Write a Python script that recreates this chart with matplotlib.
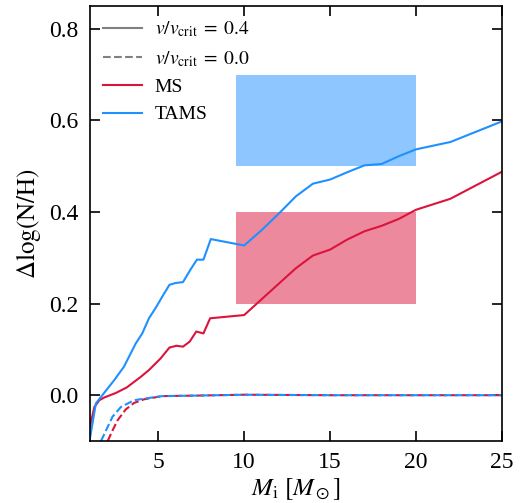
import numpy as np
import matplotlib
matplotlib.use('Agg')
import matplotlib.pyplot as plt
from matplotlib.lines import Line2D
from matplotlib.patches import Rectangle

plt.rcParams['font.family'] = ['Liberation Serif', 'DejaVu Serif']
plt.rcParams['mathtext.fontset'] = 'stix'

# rotating models (v/vcrit = 0.4)
ms_rot_m   = [1.0, 1.09, 1.28, 1.57, 1.86, 2.54, 3.17, 3.98, 4.46, 5.13, 5.65, 6.06, 6.44, 6.83, 7.21, 7.63, 8.02,
              10.0, 11.0, 12.0, 13.0, 14.0, 15.0, 16.0, 17.0, 18.0, 19.0, 20.0, 22.0, 25.0]
ms_rot_dn  = [-0.075, -0.058, -0.026, -0.011, -0.005, 0.005, 0.017, 0.040, 0.055, 0.080, 0.104, 0.108, 0.106, 0.117,
              0.139, 0.135, 0.168, 0.175, 0.209, 0.243, 0.277, 0.305, 0.318, 0.340, 0.358, 0.370, 0.385, 0.405,
              0.429, 0.488]
tams_rot_m  = [1.0, 1.37, 1.83, 2.44, 3.0, 3.69, 4.07, 4.46, 4.84, 5.23, 5.65, 6.0, 6.44, 6.87, 7.25, 7.63, 8.06,
               10.0, 11.0, 12.0, 13.0, 14.0, 15.0, 16.0, 17.0, 18.0, 19.0, 20.0, 22.0, 25.0]
tams_rot_dn = [-0.10, -0.018, 0.004, 0.033, 0.062, 0.113, 0.135, 0.168, 0.190, 0.215, 0.241, 0.245, 0.247, 0.274,
               0.296, 0.296, 0.341, 0.327, 0.360, 0.396, 0.434, 0.462, 0.471, 0.487, 0.502, 0.505, 0.522, 0.537,
               0.553, 0.598]

# non-rotating models (v/vcrit = 0.0)
ms_norot_m   = [2.06, 2.34, 2.63, 3.11, 3.59, 4.17, 5.23, 7.0, 10.0, 15.0, 20.0, 25.0]
ms_norot_dn  = [-0.10, -0.077, -0.055, -0.031, -0.017, -0.009, -0.002, -0.001, 0.001, 0.0, 0.0, 0.0]
tams_norot_m  = [1.67, 1.96, 2.34, 2.82, 3.59, 4.27, 5.23, 7.0, 10.0, 15.0, 20.0, 25.0]
tams_norot_dn = [-0.10, -0.077, -0.047, -0.026, -0.011, -0.007, -0.002, -0.001, 0.001, 0.0, 0.0, 0.0]

# observed ranges: (m_lo, m_hi, dn_lo, dn_hi)
box_tams = (9.5, 20.0, 0.5, 0.7)
box_ms   = (9.5, 20.0, 0.2, 0.4)

red  = 'crimson'
blue = 'dodgerblue'

fig = plt.figure(figsize=(5.25, 5.03), dpi=100)
ax = fig.add_axes([0.1705, 0.1233, 0.7855, 0.8647])

for (m0, m1, d0, d1), c in [(box_tams, blue), (box_ms, red)]:
	ax.add_patch(Rectangle((m0, d0), m1 - m0, d1 - d0, facecolor=c, alpha=0.5, lw=0))

ax.plot(ms_rot_m, ms_rot_dn, color=red, lw=1.5)
ax.plot(tams_rot_m, tams_rot_dn, color=blue, lw=1.5)
ax.plot(ms_norot_m, ms_norot_dn, color=red, lw=1.5, ls='--')
ax.plot(tams_norot_m, tams_norot_dn, color=blue, lw=1.5, ls='--')

ax.set_xlim(1.0, 25)
ax.set_ylim(-0.1, 0.85)
ax.set_xticks([5, 10, 15, 20, 25])
ax.set_yticks([0.0, 0.2, 0.4, 0.6, 0.8])
ax.set_yticklabels(['0.0', '0.2', '0.4', '0.6', '0.8'])
ax.tick_params(direction='in', top=True, right=True, length=7, width=1.2, labelsize=17, pad=8)
for s in ax.spines.values():
	s.set_linewidth(1.2)

ax.set_xlabel(r'$M_{\rm i}\ [M_\odot]$', fontsize=18, labelpad=2)
ax.set_ylabel(r'$\Delta\log(\mathrm{N/H})$', fontsize=18, labelpad=4)

handles = [Line2D([], [], color='gray', lw=1.5),
           Line2D([], [], color='gray', lw=1.5, ls='--'),
           Line2D([], [], color=red, lw=1.5),
           Line2D([], [], color=blue, lw=1.5)]
labels = [r'$v/v_{\rm crit}\;=\;0.4$', r'$v/v_{\rm crit}\;=\;0.0$', 'MS', 'TAMS']
ax.legend(handles, labels, loc='upper left', frameon=False, fontsize=14, handlelength=2.0,
          handletextpad=0.65, borderaxespad=0.3, borderpad=0.4, labelspacing=0.5)

fig.savefig('out.png', dpi=100)
